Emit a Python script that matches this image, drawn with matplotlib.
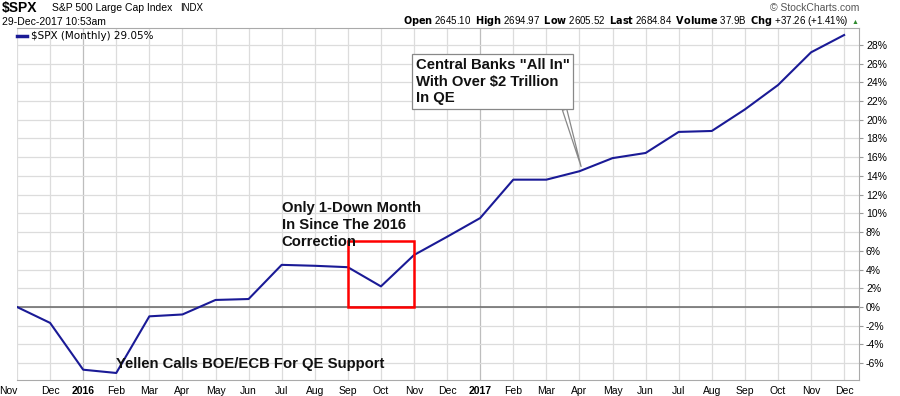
import numpy as np
import matplotlib.pyplot as plt
from matplotlib.patches import Rectangle

plt.rcParams['font.family'] = ['Liberation Sans', 'DejaVu Sans']

months = ['Nov', 'Dec', '2016', 'Feb', 'Mar', 'Apr', 'May', 'Jun', 'Jul', 'Aug', 'Sep', 'Oct', 'Nov',
          'Dec', '2017', 'Feb', 'Mar', 'Apr', 'May', 'Jun', 'Jul', 'Aug', 'Sep', 'Oct', 'Nov', 'Dec']
pct_chg = [0.0, -1.7, -6.7, -7.05, -1.0, -0.8, 0.75, 0.85, 4.5, 4.4, 4.25, 2.2, 5.55,
           7.5, 9.5, 13.6, 13.6, 14.5, 15.9, 16.45, 18.7, 18.8, 21.1, 23.7, 27.2, 29.05]
y_ticks = list(range(-6, 30, 2))
box_start, box_end, box_top = 10, 12, 7.05

x = np.arange(len(months))

fig = plt.figure(figsize=(9, 3.96), dpi=100)
ax = fig.add_axes([17 / 900, 16 / 396, 842 / 900, 352 / 396])

ax.set_xlim(0, 25.45)
ax.set_ylim(-7.8, 29.8)

# grid
for i, m in enumerate(months):
    c = '#bdbdbd' if m in ('2016', '2017') else '#dcdcdc'
    ax.axvline(i, color=c, lw=0.9, zorder=0)
for t in y_ticks:
    ax.axhline(t, color='#dcdcdc', lw=0.9, zorder=0)
ax.axhline(0, color='#666666', lw=1.1, zorder=1)

ax.plot(x, pct_chg, color='#1a1a96', lw=1.5, zorder=3)

ax.add_patch(Rectangle((box_start, 0), box_end - box_start, box_top,
                       fill=False, ec='#ff0000', lw=1.8, zorder=4))

# axes
ax.yaxis.tick_right()
ax.set_yticks(y_ticks)
ax.set_yticklabels(['%d%%' % t for t in y_ticks], fontsize=7.5)
ax.set_xticks(x)
ax.set_xticklabels(months, fontsize=7.5)
for lab in ax.get_xticklabels():
    if lab.get_text() in ('2016', '2017'):
        lab.set_fontweight('bold')
ax.get_xticklabels()[0].set_horizontalalignment('right')
ax.tick_params(axis='x', length=0, pad=4)
ax.tick_params(axis='y', length=3, pad=2, color='#999999')
ax.spines['left'].set_visible(False)
for side in ('top', 'bottom', 'right'):
    ax.spines[side].set_color('#aaaaaa')

# annotations
bold = dict(fontsize=10.7, fontweight='bold', color='#111111')
ax.text(8.0, 11.3, 'Only 1-Down Month\nIn Since The 2016\nCorrection',
        va='top', ha='left', linespacing=1.25, zorder=5, **bold)
ax.text(3.0, -6.1, 'Yellen Calls BOE/ECB For QE Support',
        va='center', ha='left', zorder=5, **bold)
ax.annotate('Central Banks "All In"\nWith Over $2 Trillion\nIn QE',
            xy=(17.05, 15.0), xytext=(12.05, 26.6), va='top', ha='left',
            linespacing=1.25, zorder=6,
            bbox=dict(boxstyle='square,pad=0.25', fc='white', ec='#888888', lw=0.9),
            arrowprops=dict(arrowstyle='wedge,tail_width=0.3', fc='white', ec='#888888',
                            lw=0.9, relpos=(0.96, 0.0), shrinkA=0, shrinkB=0),
            **bold)

# legend row
ax.plot([0.0, 0.3], [28.9, 28.9], color='#1a1a96', lw=2.5, zorder=5, clip_on=False)
ax.text(0.42, 28.9, '$SPX (Monthly) 29.05%', fontsize=7.5, va='center', ha='left',
        family='DejaVu Sans', zorder=5)

# header
fig.text(2 / 900, 1 - 8 / 396, '$SPX', fontsize=10, fontweight='bold', va='center')
fig.text(52 / 900, 1 - 8 / 396, 'S&P 500 Large Cap Index', fontsize=7.5, va='center')
fig.text(180 / 900, 1 - 8 / 396, 'INDX', fontsize=7, va='center')
fig.text(2 / 900, 1 - 22 / 396, '29-Dec-2017 10:53am', fontsize=7.5, va='center')
fig.text(859 / 900, 1 - 8 / 396, '\u00a9 StockCharts.com', fontsize=7.5, va='center',
         ha='right', color='#555555')
fig.text(849 / 900, 1 - 21 / 396,
         r'$\bf{Open}$ 2645.10  $\bf{High}$ 2694.97  $\bf{Low}$ 2605.52  $\bf{Last}$ 2684.84  '
         r'$\bf{Volume}$ 37.9B  $\bf{Chg}$ +37.26 (+1.41%)',
         fontsize=7, va='center', ha='right')
fig.text(858 / 900, 1 - 22 / 396, '\u25b2', fontsize=5, color='#2e8b2e', va='center', ha='right')

fig.savefig('out.png', dpi=100)
